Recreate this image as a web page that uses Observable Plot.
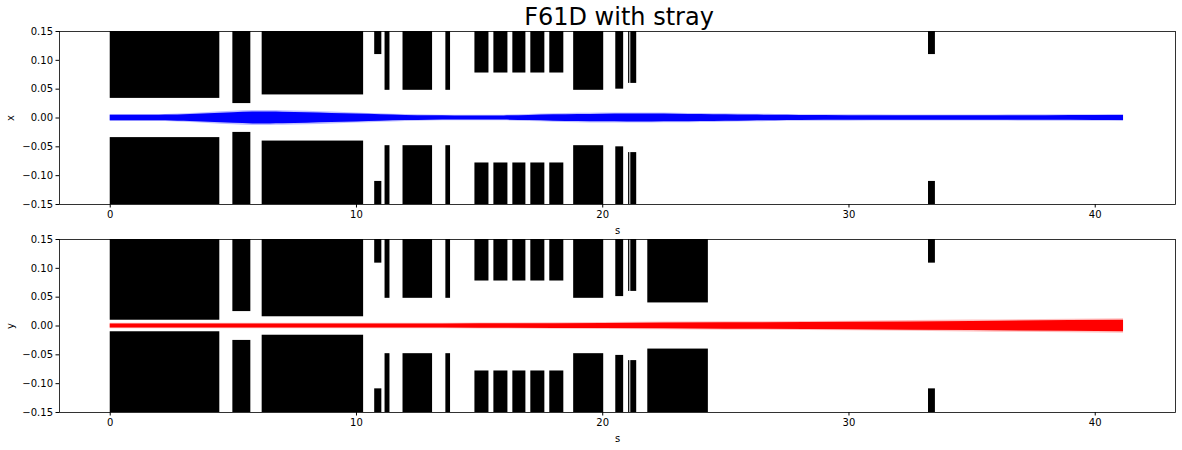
<!DOCTYPE html>
<html>
<head>
<meta charset="utf-8">
<script src="https://cdn.jsdelivr.net/npm/d3@7"></script>
<script src="https://cdn.jsdelivr.net/npm/@observablehq/plot@0.6"></script>
<style>
  html, body { margin: 0; padding: 0; background: #fff; }
  #wrap { position: relative; width: 1182px; height: 450px; font-family: "DejaVu Sans", sans-serif; }
  #title { position: absolute; top: 3px; left: 63px; width: 1112px; text-align: center; font-size: 24px; color: #000; z-index: 2; }
  #p1 { position: absolute; top: 21px; left: 0; }
  #p2 { position: absolute; top: 229px; left: 0; }
</style>
</head>
<body>
<div id="wrap">
  <div id="p1"></div>
  <div id="p2"></div>
  <div id="title">F61D with stray</div>
</div>
<script>
// Beamline elements: start / end position along s, and half-apertures in x and y
const elemStart = [0, 4.98, 6.17, 10.74, 11.16, 11.89, 13.63, 14.81, 15.58, 16.35, 17.08, 17.85, 18.82, 20.53, 21.05, 21.14, 21.83, 33.23];
const elemEnd   = [4.45, 5.71, 10.29, 11.03, 11.36, 13.09, 13.82, 15.38, 16.15, 16.88, 17.65, 18.42, 20.04, 20.85, 21.10, 21.38, 24.29, 33.51];
const apertureX = [0.034, 0.025, 0.040, 0.110, 0.048, 0.048, 0.048, 0.078, 0.078, 0.078, 0.078, 0.078, 0.048, 0.050, 0.060, 0.060, null, 0.110];
const apertureY = [0.010, 0.025, 0.016, 0.109, 0.048, 0.048, 0.048, 0.078, 0.078, 0.078, 0.078, 0.078, 0.048, 0.051, 0.060, 0.060, 0.040, 0.109];

// Beam envelope (half width) along s
const envS  = [0, 1, 2, 2.5, 3, 4, 5, 5.8, 6.5, 7, 8, 9, 10, 11, 12, 13, 14, 15, 16, 17, 18, 19, 20, 21, 22, 23, 24, 25, 26, 27, 28, 30, 32, 34, 36, 38, 40, 41.15];
const envX  = [0.0046, 0.0046, 0.0047, 0.0050, 0.0057, 0.0075, 0.0093, 0.0102, 0.0103, 0.0101, 0.0092, 0.0080, 0.0068, 0.0056, 0.0044, 0.0037, 0.0034, 0.0033, 0.0036, 0.0045, 0.0055, 0.0062, 0.0067, 0.0069, 0.0068, 0.0065, 0.0060, 0.0055, 0.0050, 0.0046, 0.0043, 0.0041, 0.0040, 0.0040, 0.0040, 0.0041, 0.0043, 0.0044];
const envYs = [0, 5, 10, 12, 15, 20, 25, 30, 35, 41.15];
const envY  = [0.0035, 0.0035, 0.0034, 0.0034, 0.0038, 0.0045, 0.0055, 0.0065, 0.0080, 0.0098];

const sDomain = [-2.06, 43.26];
const xTicks = [0, 10, 20, 30, 40];
const yTicks = [-0.15, -0.10, -0.05, 0.00, 0.05, 0.10, 0.15];
const yLim = 0.15;

function panel(aps, envs, envw, color, label, mb) {
  const rects = [];
  elemStart.forEach((s0, i) => {
    const a = aps[i];
    if (a == null) return;
    rects.push({x1: s0, x2: elemEnd[i], y1: a, y2: yLim});
    rects.push({x1: s0, x2: elemEnd[i], y1: -yLim, y2: -a});
  });
  const env = envs.map((s, i) => ({s, w: envw[i]}));
  return Plot.plot({
    width: 1182,
    height: 183 + mb,
    marginLeft: 59,
    marginRight: 7,
    marginTop: 10,
    marginBottom: mb,
    style: {fontFamily: "DejaVu Sans", fontSize: "10px", color: "#000", background: "transparent"},
    x: {domain: sDomain},
    y: {domain: [-yLim, yLim]},
    marks: [
      Plot.rect(rects, {x1: "x1", x2: "x2", y1: "y1", y2: "y2", fill: "#000"}),
      Plot.areaY(env, {x: "s", y1: d => -(d.w * 1.2 + 0.0006), y2: d => d.w * 1.2 + 0.0006, fill: color, fillOpacity: 0.25, curve: "monotone-x"}),
      Plot.areaY(env, {x: "s", y1: d => -d.w, y2: d => d.w, fill: color, curve: "monotone-x"}),
      Plot.frame({stroke: "#000", strokeWidth: 0.8}),
      Plot.axisX({ticks: xTicks, tickSize: 3.5, tickPadding: 3, label: "s", labelAnchor: "center", labelArrow: "none", labelOffset: 29}),
      Plot.axisY({ticks: yTicks, tickSize: 3.5, tickPadding: 3, tickFormat: d3.format(".2f"), label: label, labelAnchor: "center", labelArrow: "none", labelOffset: 53})
    ]
  });
}

document.getElementById("p1").appendChild(panel(apertureX, envS, envX, "#0000ff", "x", 32));
document.getElementById("p2").appendChild(panel(apertureY, envYs, envY, "#ff0000", "y", 38));
</script>
</body>
</html>
